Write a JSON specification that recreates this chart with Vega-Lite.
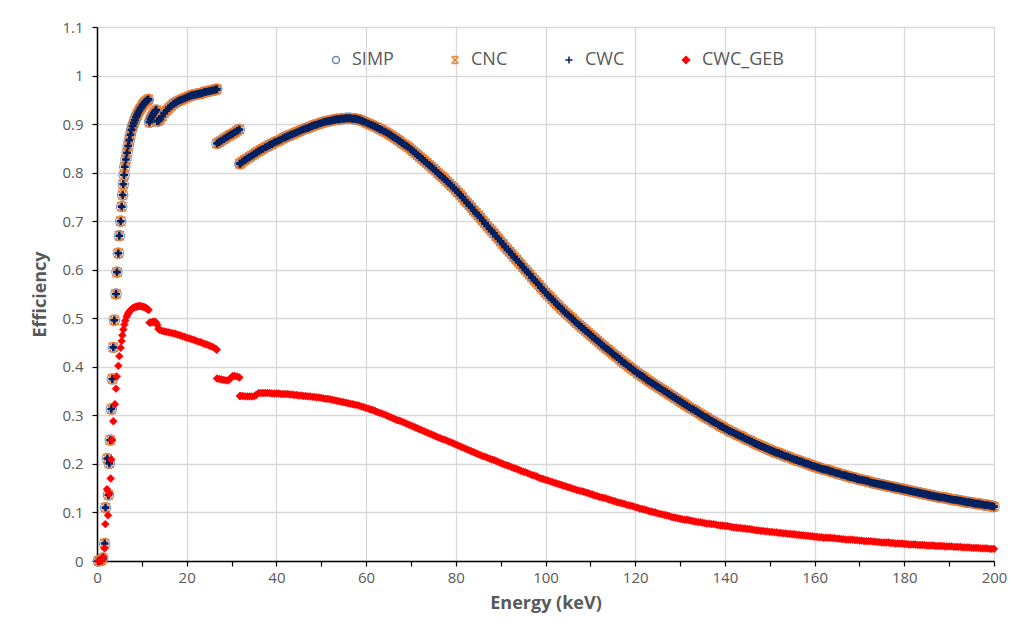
{
"$schema": "https://vega.github.io/schema/vega-lite/v6.json",
"width": 897, "height": 534,
"autosize": {"type": "none"},
"padding": {"left": 97, "top": 27, "right": 17, "bottom": 76},
"background": "white",
"config": {"view": {"stroke": null}, "font": "Open Sans"},
"datasets": {"d": [
{"E":0.3,"v":0},{"E":0.7,"v":0.001},{"E":1,"v":0.002},{"E":1.3,"v":0.006},{"E":1.7,"v":0.036},{"E":1.9,"v":0.11},{"E":2.3,"v":0.211},{"E":2.55,"v":0.136},{"E":2.75,"v":0.201},{"E":2.95,"v":0.249},{"E":3.2,"v":0.313},{"E":3.42,"v":0.375},{"E":3.64,"v":0.44},{"E":3.86,"v":0.496},{"E":4.24,"v":0.55},{"E":4.46,"v":0.595},{"E":4.76,"v":0.634},{"E":4.98,"v":0.67},{"E":5.28,"v":0.7},{"E":5.5,"v":0.73},{"E":5.72,"v":0.754},{"E":5.87,"v":0.776},{"E":6.05,"v":0.795},{"E":6.2,"v":0.812},{"E":6.45,"v":0.827},{"E":6.7,"v":0.841},{"E":6.95,"v":0.855},{"E":7.2,"v":0.867},{"E":7.45,"v":0.878},{"E":7.7,"v":0.888},{"E":7.95,"v":0.896},{"E":8.2,"v":0.902},{"E":8.45,"v":0.908},{"E":8.7,"v":0.914},{"E":8.95,"v":0.919},{"E":9.2,"v":0.924},{"E":9.45,"v":0.928},{"E":9.7,"v":0.932},{"E":9.95,"v":0.935},{"E":10.2,"v":0.939},{"E":10.45,"v":0.942},{"E":10.7,"v":0.945},{"E":10.95,"v":0.947},{"E":11.2,"v":0.949},{"E":11.45,"v":0.951},
{"E":11.95,"v":0.91},{"E":12.2,"v":0.915},{"E":12.45,"v":0.919},{"E":12.7,"v":0.923},{"E":12.95,"v":0.926},{"E":13.2,"v":0.929},
{"E":0.4,"g":0},{"E":0.8,"g":0.001},{"E":1.1,"g":0.003},{"E":1.4,"g":0.008},{"E":1.7,"g":0.026},{"E":1.86,"g":0.076},{"E":2.23,"g":0.148},{"E":2.45,"g":0.094},{"E":2.75,"g":0.139},{"E":3.05,"g":0.17},{"E":3.19,"g":0.209},{"E":3.34,"g":0.249},{"E":3.64,"g":0.288},{"E":4,"g":0.323},{"E":4.24,"g":0.355},{"E":4.39,"g":0.38},{"E":4.76,"g":0.402},{"E":4.98,"g":0.422},{"E":5.28,"g":0.439},{"E":5.5,"g":0.453},{"E":5.65,"g":0.465},{"E":5.87,"g":0.477},{"E":6.1,"g":0.487},{"E":6.3,"g":0.495},{"E":6.6,"g":0.503},{"E":6.85,"g":0.508},{"E":7,"g":0.511},{"E":7.25,"g":0.514},{"E":7.5,"g":0.517},{"E":7.75,"g":0.519},{"E":8,"g":0.521},{"E":8.25,"g":0.522},{"E":8.5,"g":0.523},{"E":8.75,"g":0.524},{"E":9,"g":0.524},{"E":9.25,"g":0.525},{"E":9.5,"g":0.525},{"E":9.75,"g":0.525},{"E":10,"g":0.524},{"E":10.25,"g":0.524},{"E":10.5,"g":0.523},{"E":10.75,"g":0.522},{"E":11,"g":0.521},{"E":11.25,"g":0.519},{"E":11.5,"g":0.517},
{"E":12,"g":0.491},{"E":12.3,"g":0.492},{"E":12.6,"g":0.493},{"E":12.9,"g":0.493},{"E":13.2,"g":0.491},
{"E":11.7,"v":0.904,"g":0.491},{"E":13.45,"v":0.906,"g":0.486},{"E":13.7,"v":0.907,"g":0.478},
{"E":14,"v":0.91,"g":0.476},{"E":14.5,"v":0.916,"g":0.474},{"E":15,"v":0.923,"g":0.473},{"E":15.5,"v":0.928,"g":0.472},{"E":16,"v":0.933,"g":0.471},{"E":16.5,"v":0.937,"g":0.47},{"E":17,"v":0.941,"g":0.469},{"E":17.5,"v":0.944,"g":0.468},{"E":18,"v":0.947,"g":0.466},{"E":18.5,"v":0.949,"g":0.465},{"E":19,"v":0.951,"g":0.463},{"E":19.5,"v":0.953,"g":0.462},{"E":20,"v":0.955,"g":0.46},{"E":20.5,"v":0.957,"g":0.459},{"E":21,"v":0.959,"g":0.457},{"E":21.5,"v":0.96,"g":0.456},{"E":22,"v":0.961,"g":0.454},{"E":22.5,"v":0.962,"g":0.452},{"E":23,"v":0.963,"g":0.451},{"E":23.5,"v":0.964,"g":0.449},{"E":24,"v":0.966,"g":0.447},{"E":24.5,"v":0.967,"g":0.446},{"E":25,"v":0.968,"g":0.444},{"E":25.5,"v":0.969,"g":0.442},{"E":26,"v":0.97,"g":0.44},{"E":26.5,"v":0.971,"g":0.437},{"E":26.7,"v":0.972,"g":0.435},
{"E":26.75,"v":0.86,"g":0.376},{"E":27.25,"v":0.863,"g":0.375},{"E":27.75,"v":0.866,"g":0.374},{"E":28.25,"v":0.869,"g":0.373},{"E":28.75,"v":0.872,"g":0.372},{"E":29.25,"v":0.875,"g":0.372},{"E":29.75,"v":0.878,"g":0.376},{"E":30.25,"v":0.88,"g":0.381},{"E":30.75,"v":0.883,"g":0.381},{"E":31.25,"v":0.886,"g":0.38},{"E":31.75,"v":0.889,"g":0.378},{"E":31.85,"v":0.818,"g":0.34},
{"E":32,"v":0.819,"g":0.34},{"E":32.5,"v":0.823,"g":0.34},{"E":33,"v":0.826,"g":0.339},{"E":33.5,"v":0.829,"g":0.339},{"E":34,"v":0.832,"g":0.339},{"E":34.5,"v":0.835,"g":0.339},{"E":35,"v":0.838,"g":0.339},{"E":35.5,"v":0.841,"g":0.342},{"E":36,"v":0.844,"g":0.346},{"E":36.5,"v":0.847,"g":0.346},{"E":37,"v":0.849,"g":0.346},{"E":37.5,"v":0.852,"g":0.346},{"E":38,"v":0.854,"g":0.346},{"E":38.5,"v":0.857,"g":0.346},{"E":39,"v":0.859,"g":0.345},{"E":39.5,"v":0.862,"g":0.345},
{"E":40,"v":0.864,"g":0.345},{"E":40.5,"v":0.866,"g":0.345},{"E":41,"v":0.868,"g":0.344},{"E":41.5,"v":0.871,"g":0.344},{"E":42,"v":0.873,"g":0.344},{"E":42.5,"v":0.875,"g":0.344},{"E":43,"v":0.877,"g":0.343},{"E":43.5,"v":0.879,"g":0.343},{"E":44,"v":0.881,"g":0.342},{"E":44.5,"v":0.883,"g":0.342},{"E":45,"v":0.885,"g":0.341},{"E":45.5,"v":0.887,"g":0.341},{"E":46,"v":0.889,"g":0.34},{"E":46.5,"v":0.891,"g":0.34},{"E":47,"v":0.892,"g":0.339},{"E":47.5,"v":0.894,"g":0.339},{"E":48,"v":0.896,"g":0.338},{"E":48.5,"v":0.898,"g":0.338},{"E":49,"v":0.899,"g":0.337},{"E":49.5,"v":0.901,"g":0.337},
{"E":50,"v":0.902,"g":0.336},{"E":50.5,"v":0.904,"g":0.335},{"E":51,"v":0.905,"g":0.334},{"E":51.5,"v":0.906,"g":0.334},{"E":52,"v":0.907,"g":0.333},{"E":52.5,"v":0.908,"g":0.332},{"E":53,"v":0.909,"g":0.331},{"E":53.5,"v":0.91,"g":0.33},{"E":54,"v":0.91,"g":0.329},{"E":54.5,"v":0.911,"g":0.328},{"E":55,"v":0.911,"g":0.327},{"E":55.5,"v":0.912,"g":0.326},{"E":56,"v":0.912,"g":0.325},{"E":56.5,"v":0.912,"g":0.324},{"E":57,"v":0.911,"g":0.323},{"E":57.5,"v":0.911,"g":0.322},{"E":58,"v":0.91,"g":0.321},{"E":58.5,"v":0.909,"g":0.32},{"E":59,"v":0.907,"g":0.318},{"E":59.5,"v":0.905,"g":0.317},
{"E":60,"v":0.903,"g":0.315},{"E":60.5,"v":0.901,"g":0.314},{"E":61,"v":0.899,"g":0.312},{"E":61.5,"v":0.897,"g":0.311},{"E":62,"v":0.895,"g":0.309},{"E":62.5,"v":0.893,"g":0.307},{"E":63,"v":0.89,"g":0.305},{"E":63.5,"v":0.888,"g":0.304},{"E":64,"v":0.885,"g":0.302},{"E":64.5,"v":0.883,"g":0.3},{"E":65,"v":0.88,"g":0.298},{"E":65.5,"v":0.877,"g":0.296},{"E":66,"v":0.874,"g":0.294},{"E":66.5,"v":0.871,"g":0.292},{"E":67,"v":0.868,"g":0.29},{"E":67.5,"v":0.865,"g":0.289},{"E":68,"v":0.861,"g":0.287},{"E":68.5,"v":0.858,"g":0.285},{"E":69,"v":0.855,"g":0.283},{"E":69.5,"v":0.852,"g":0.281},
{"E":70,"v":0.848,"g":0.279},{"E":70.5,"v":0.844,"g":0.277},{"E":71,"v":0.84,"g":0.275},{"E":71.5,"v":0.836,"g":0.273},{"E":72,"v":0.832,"g":0.271},{"E":72.5,"v":0.828,"g":0.269},{"E":73,"v":0.824,"g":0.267},{"E":73.5,"v":0.82,"g":0.265},{"E":74,"v":0.816,"g":0.263},{"E":74.5,"v":0.812,"g":0.261},{"E":75,"v":0.808,"g":0.259},{"E":75.5,"v":0.804,"g":0.257},{"E":76,"v":0.799,"g":0.255},{"E":76.5,"v":0.795,"g":0.253},{"E":77,"v":0.791,"g":0.251},{"E":77.5,"v":0.787,"g":0.25},{"E":78,"v":0.782,"g":0.248},{"E":78.5,"v":0.778,"g":0.246},{"E":79,"v":0.773,"g":0.244},{"E":79.5,"v":0.769,"g":0.242},
{"E":80,"v":0.764,"g":0.24},{"E":80.5,"v":0.759,"g":0.238},{"E":81,"v":0.754,"g":0.236},{"E":81.5,"v":0.749,"g":0.234},{"E":82,"v":0.743,"g":0.232},{"E":82.5,"v":0.738,"g":0.23},{"E":83,"v":0.733,"g":0.228},{"E":83.5,"v":0.728,"g":0.226},{"E":84,"v":0.722,"g":0.224},{"E":84.5,"v":0.717,"g":0.222},{"E":85,"v":0.712,"g":0.22},{"E":85.5,"v":0.707,"g":0.218},{"E":86,"v":0.701,"g":0.216},{"E":86.5,"v":0.696,"g":0.215},{"E":87,"v":0.69,"g":0.213},{"E":87.5,"v":0.685,"g":0.211},{"E":88,"v":0.68,"g":0.209},{"E":88.5,"v":0.675,"g":0.208},{"E":89,"v":0.669,"g":0.206},{"E":89.5,"v":0.664,"g":0.204},
{"E":90,"v":0.658,"g":0.202},{"E":90.5,"v":0.653,"g":0.2},{"E":91,"v":0.647,"g":0.198},{"E":91.5,"v":0.642,"g":0.197},{"E":92,"v":0.637,"g":0.195},{"E":92.5,"v":0.632,"g":0.193},{"E":93,"v":0.626,"g":0.191},{"E":93.5,"v":0.621,"g":0.19},{"E":94,"v":0.616,"g":0.188},{"E":94.5,"v":0.611,"g":0.186},{"E":95,"v":0.605,"g":0.184},{"E":95.5,"v":0.6,"g":0.183},{"E":96,"v":0.595,"g":0.181},{"E":96.5,"v":0.59,"g":0.179},{"E":97,"v":0.584,"g":0.177},{"E":97.5,"v":0.579,"g":0.176},{"E":98,"v":0.574,"g":0.174},{"E":98.5,"v":0.569,"g":0.172},{"E":99,"v":0.563,"g":0.17},{"E":99.5,"v":0.558,"g":0.169},
{"E":100,"v":0.553,"g":0.167},{"E":100.5,"v":0.548,"g":0.166},{"E":101,"v":0.544,"g":0.164},{"E":101.5,"v":0.539,"g":0.163},{"E":102,"v":0.534,"g":0.161},{"E":102.5,"v":0.529,"g":0.16},{"E":103,"v":0.525,"g":0.158},{"E":103.5,"v":0.52,"g":0.157},{"E":104,"v":0.516,"g":0.155},{"E":104.5,"v":0.511,"g":0.154},{"E":105,"v":0.507,"g":0.152},{"E":105.5,"v":0.503,"g":0.151},{"E":106,"v":0.499,"g":0.149},{"E":106.5,"v":0.494,"g":0.148},{"E":107,"v":0.49,"g":0.146},{"E":107.5,"v":0.486,"g":0.145},{"E":108,"v":0.482,"g":0.144},{"E":108.5,"v":0.478,"g":0.143},{"E":109,"v":0.474,"g":0.141},{"E":109.5,"v":0.47,"g":0.14},
{"E":110,"v":0.466,"g":0.138},{"E":110.5,"v":0.462,"g":0.137},{"E":111,"v":0.458,"g":0.135},{"E":111.5,"v":0.454,"g":0.134},{"E":112,"v":0.45,"g":0.132},{"E":112.5,"v":0.446,"g":0.131},{"E":113,"v":0.442,"g":0.13},{"E":113.5,"v":0.438,"g":0.129},{"E":114,"v":0.435,"g":0.127},{"E":114.5,"v":0.431,"g":0.126},{"E":115,"v":0.427,"g":0.124},{"E":115.5,"v":0.423,"g":0.123},{"E":116,"v":0.42,"g":0.121},{"E":116.5,"v":0.416,"g":0.12},{"E":117,"v":0.412,"g":0.119},{"E":117.5,"v":0.408,"g":0.118},{"E":118,"v":0.405,"g":0.116},{"E":118.5,"v":0.401,"g":0.115},{"E":119,"v":0.398,"g":0.114},{"E":119.5,"v":0.394,"g":0.113},
{"E":120,"v":0.391,"g":0.111},{"E":120.5,"v":0.387,"g":0.11},{"E":121,"v":0.384,"g":0.108},{"E":121.5,"v":0.381,"g":0.107},{"E":122,"v":0.378,"g":0.106},{"E":122.5,"v":0.374,"g":0.105},{"E":123,"v":0.371,"g":0.103},{"E":123.5,"v":0.368,"g":0.102},{"E":124,"v":0.365,"g":0.101},{"E":124.5,"v":0.362,"g":0.1},{"E":125,"v":0.359,"g":0.098},{"E":125.5,"v":0.356,"g":0.097},{"E":126,"v":0.353,"g":0.096},{"E":126.5,"v":0.35,"g":0.095},{"E":127,"v":0.347,"g":0.094},{"E":127.5,"v":0.344,"g":0.093},{"E":128,"v":0.341,"g":0.091},{"E":128.5,"v":0.338,"g":0.09},{"E":129,"v":0.335,"g":0.089},{"E":129.5,"v":0.332,"g":0.088},
{"E":130,"v":0.329,"g":0.087},{"E":130.5,"v":0.326,"g":0.086},{"E":131,"v":0.323,"g":0.085},{"E":131.5,"v":0.32,"g":0.085},{"E":132,"v":0.317,"g":0.084},{"E":132.5,"v":0.314,"g":0.083},{"E":133,"v":0.312,"g":0.082},{"E":133.5,"v":0.309,"g":0.081},{"E":134,"v":0.306,"g":0.08},{"E":134.5,"v":0.303,"g":0.08},{"E":135,"v":0.3,"g":0.079},{"E":135.5,"v":0.297,"g":0.078},{"E":136,"v":0.295,"g":0.077},{"E":136.5,"v":0.292,"g":0.077},{"E":137,"v":0.289,"g":0.076},{"E":137.5,"v":0.286,"g":0.076},{"E":138,"v":0.284,"g":0.075},{"E":138.5,"v":0.281,"g":0.074},{"E":139,"v":0.278,"g":0.073},{"E":139.5,"v":0.276,"g":0.073},
{"E":140,"v":0.273,"g":0.072},{"E":140.5,"v":0.271,"g":0.072},{"E":141,"v":0.268,"g":0.071},{"E":141.5,"v":0.266,"g":0.07},{"E":142,"v":0.264,"g":0.069},{"E":142.5,"v":0.261,"g":0.069},{"E":143,"v":0.259,"g":0.068},{"E":143.5,"v":0.257,"g":0.068},{"E":144,"v":0.255,"g":0.067},{"E":144.5,"v":0.252,"g":0.067},{"E":145,"v":0.25,"g":0.066},{"E":145.5,"v":0.248,"g":0.066},{"E":146,"v":0.246,"g":0.065},{"E":146.5,"v":0.243,"g":0.064},{"E":147,"v":0.241,"g":0.063},{"E":147.5,"v":0.239,"g":0.063},{"E":148,"v":0.237,"g":0.062},{"E":148.5,"v":0.235,"g":0.062},{"E":149,"v":0.233,"g":0.061},{"E":149.5,"v":0.231,"g":0.061},
{"E":150,"v":0.229,"g":0.06},{"E":150.5,"v":0.227,"g":0.06},{"E":151,"v":0.225,"g":0.059},{"E":151.5,"v":0.223,"g":0.059},{"E":152,"v":0.222,"g":0.058},{"E":152.5,"v":0.22,"g":0.058},{"E":153,"v":0.218,"g":0.057},{"E":153.5,"v":0.216,"g":0.057},{"E":154,"v":0.215,"g":0.056},{"E":154.5,"v":0.213,"g":0.056},{"E":155,"v":0.211,"g":0.055},{"E":155.5,"v":0.209,"g":0.055},{"E":156,"v":0.208,"g":0.054},{"E":156.5,"v":0.206,"g":0.054},{"E":157,"v":0.205,"g":0.053},{"E":157.5,"v":0.203,"g":0.053},{"E":158,"v":0.201,"g":0.052},{"E":158.5,"v":0.2,"g":0.052},{"E":159,"v":0.198,"g":0.051},{"E":159.5,"v":0.196,"g":0.051},
{"E":160,"v":0.195,"g":0.05},{"E":160.5,"v":0.193,"g":0.05},{"E":161,"v":0.192,"g":0.049},{"E":161.5,"v":0.19,"g":0.049},{"E":162,"v":0.189,"g":0.048},{"E":162.5,"v":0.188,"g":0.048},{"E":163,"v":0.187,"g":0.048},{"E":163.5,"v":0.185,"g":0.048},{"E":164,"v":0.184,"g":0.047},{"E":164.5,"v":0.182,"g":0.047},{"E":165,"v":0.181,"g":0.046},{"E":165.5,"v":0.18,"g":0.046},{"E":166,"v":0.178,"g":0.045},{"E":166.5,"v":0.177,"g":0.045},{"E":167,"v":0.176,"g":0.044},{"E":167.5,"v":0.174,"g":0.044},{"E":168,"v":0.173,"g":0.044},{"E":168.5,"v":0.172,"g":0.044},{"E":169,"v":0.171,"g":0.043},{"E":169.5,"v":0.169,"g":0.043},
{"E":170,"v":0.168,"g":0.042},{"E":170.5,"v":0.167,"g":0.042},{"E":171,"v":0.166,"g":0.041},{"E":171.5,"v":0.165,"g":0.041},{"E":172,"v":0.164,"g":0.041},{"E":172.5,"v":0.162,"g":0.041},{"E":173,"v":0.161,"g":0.04},{"E":173.5,"v":0.16,"g":0.04},{"E":174,"v":0.159,"g":0.039},{"E":174.5,"v":0.158,"g":0.039},{"E":175,"v":0.157,"g":0.038},{"E":175.5,"v":0.156,"g":0.038},{"E":176,"v":0.155,"g":0.038},{"E":176.5,"v":0.154,"g":0.038},{"E":177,"v":0.153,"g":0.037},{"E":177.5,"v":0.152,"g":0.037},{"E":178,"v":0.151,"g":0.036},{"E":178.5,"v":0.15,"g":0.036},{"E":179,"v":0.149,"g":0.036},{"E":179.5,"v":0.148,"g":0.036},
{"E":180,"v":0.147,"g":0.035},{"E":180.5,"v":0.146,"g":0.035},{"E":181,"v":0.145,"g":0.034},{"E":181.5,"v":0.144,"g":0.034},{"E":182,"v":0.143,"g":0.034},{"E":182.5,"v":0.142,"g":0.034},{"E":183,"v":0.141,"g":0.033},{"E":183.5,"v":0.14,"g":0.033},{"E":184,"v":0.139,"g":0.033},{"E":184.5,"v":0.138,"g":0.033},{"E":185,"v":0.137,"g":0.032},{"E":185.5,"v":0.136,"g":0.032},{"E":186,"v":0.135,"g":0.032},{"E":186.5,"v":0.134,"g":0.032},{"E":187,"v":0.133,"g":0.031},{"E":187.5,"v":0.132,"g":0.031},{"E":188,"v":0.131,"g":0.031},{"E":188.5,"v":0.131,"g":0.031},{"E":189,"v":0.13,"g":0.03},{"E":189.5,"v":0.129,"g":0.03},
{"E":190,"v":0.128,"g":0.03},{"E":190.5,"v":0.127,"g":0.03},{"E":191,"v":0.126,"g":0.029},{"E":191.5,"v":0.126,"g":0.029},{"E":192,"v":0.125,"g":0.029},{"E":192.5,"v":0.124,"g":0.029},{"E":193,"v":0.123,"g":0.028},{"E":193.5,"v":0.122,"g":0.028},{"E":194,"v":0.121,"g":0.028},{"E":194.5,"v":0.121,"g":0.028},{"E":195,"v":0.12,"g":0.027},{"E":195.5,"v":0.119,"g":0.027},{"E":196,"v":0.118,"g":0.027},{"E":196.5,"v":0.118,"g":0.027},{"E":197,"v":0.117,"g":0.026},{"E":197.5,"v":0.116,"g":0.026},{"E":198,"v":0.115,"g":0.026},{"E":198.5,"v":0.115,"g":0.026},{"E":199,"v":0.114,"g":0.025},{"E":199.5,"v":0.113,"g":0.025},{"E":200,"v":0.112,"g":0.025}
]},
"data": {"name": "d"},
"encoding": {
  "x": {"field": "E", "type": "quantitative", "title": "Energy (keV)",
    "scale": {"domain": [0, 200], "nice": false, "zero": false},
    "axis": {"values": [0,10,20,30,40,50,60,70,80,90,100,110,120,130,140,150,160,170,180,190,200],
      "labelExpr": "datum.value % 20 === 0 ? datum.label : ''",
      "gridOpacity": {"condition": {"test": "datum.value % 20 !== 0", "value": 0}, "value": 1},
      "gridColor": "#D9D9D9", "gridWidth": 1.3,
      "domainColor": "#000000", "domainWidth": 1.5, "tickColor": "#000000", "tickWidth": 1.2, "tickSize": 5,
      "labelFont": "Open Sans", "labelFontSize": 15, "labelColor": "#595959", "labelPadding": 4,
      "labelFlush": false, "labelOverlap": false, "labelBound": false,
      "titleFont": "Open Sans", "titleFontSize": 18, "titleFontWeight": "bold", "titleColor": "#595959", "titlePadding": 9}
  }
},
"layer": [
  {"mark": {"type": "point", "filled": true, "strokeWidth": 1, "size": 110, "opacity": 1},
   "encoding": {
     "y": {"field": "v", "type": "quantitative", "title": "Efficiency",
       "scale": {"domain": [0, 1.1], "nice": false},
       "axis": {"values": [0,0.05,0.1,0.15,0.2,0.25,0.3,0.35,0.4,0.45,0.5,0.55,0.6,0.65,0.7,0.75,0.8,0.85,0.9,0.95,1,1.05,1.1],
         "format": "~g",
         "labelExpr": "round(datum.value*20) % 2 === 0 ? datum.label : ''",
         "gridOpacity": {"condition": {"test": "round(datum.value*20) % 2 === 1", "value": 0}, "value": 1},
         "gridColor": "#D9D9D9", "gridWidth": 1.3,
         "domainColor": "#000000", "domainWidth": 1.5, "tickColor": "#000000", "tickWidth": 1.2, "tickSize": 5,
         "labelFont": "Open Sans", "labelFontSize": 15, "labelColor": "#595959", "labelPadding": 9,
         "labelFlush": false, "labelOverlap": false, "labelBound": false,
         "titleFont": "Open Sans", "titleFontSize": 18, "titleFontWeight": "bold", "titleColor": "#595959", "titlePadding": 12}},
     "shape": {"datum": "SIMP",
       "scale": {"domain": ["SIMP", "CNC", "CWC", "CWC_GEB"], "range": ["circle", "M-1,-1L1,1M-1,1L1,-1M-0.6,-1L0.6,-1M-0.6,1L0.6,1", "M-1,0L1,0M0,-1L0,1", "diamond"]},
       "legend": {"title": null, "orient": "none", "legendX": 230, "legendY": 24, "direction": "horizontal",
         "labelFont": "Open Sans", "labelFontSize": 18, "labelColor": "#595959", "labelOffset": 7,
         "symbolSize": 50, "symbolStrokeWidth": 1.5, "columnPadding": 52, "padding": 0}},
     "stroke": {"datum": "SIMP",
       "scale": {"domain": ["SIMP", "CNC", "CWC", "CWC_GEB"], "range": ["#6F87B8", "#ED7D31", "#002060", "#FF0000"]},
       "legend": {"title": null, "orient": "none", "legendX": 230, "legendY": 24, "direction": "horizontal",
         "labelFont": "Open Sans", "labelFontSize": 18, "labelColor": "#595959", "labelOffset": 7,
         "symbolSize": 50, "symbolStrokeWidth": 1.5, "columnPadding": 52, "padding": 0}},
     "fill": {"datum": "SIMP",
       "scale": {"domain": ["SIMP", "CNC", "CWC", "CWC_GEB"], "range": ["transparent", "transparent", "transparent", "#FF0000"]},
       "legend": {"title": null, "orient": "none", "legendX": 230, "legendY": 24, "direction": "horizontal",
         "labelFont": "Open Sans", "labelFontSize": 18, "labelColor": "#595959", "labelOffset": 7,
         "symbolSize": 50, "symbolStrokeWidth": 1.5, "columnPadding": 52, "padding": 0}}
   }},
  {"mark": {"type": "point", "filled": true, "strokeWidth": 1.5, "size": 85, "opacity": 1},
   "encoding": {
     "y": {"field": "v", "type": "quantitative", "title": "Efficiency"},
     "shape": {"datum": "CNC"}, "stroke": {"datum": "CNC"}, "fill": {"datum": "CNC"}
   }},
  {"mark": {"type": "point", "filled": true, "strokeWidth": 2.6, "size": 62, "opacity": 1},
   "encoding": {
     "y": {"field": "v", "type": "quantitative", "title": "Efficiency"},
     "shape": {"datum": "CWC"}, "stroke": {"datum": "CWC"}, "fill": {"datum": "CWC"}
   }},
  {"mark": {"type": "point", "filled": true, "strokeWidth": 0.5, "size": 62, "opacity": 1},
   "encoding": {
     "y": {"field": "g", "type": "quantitative", "title": "Efficiency"},
     "shape": {"datum": "CWC_GEB"}, "stroke": {"datum": "CWC_GEB"}, "fill": {"datum": "CWC_GEB"}
   }}
]
}
